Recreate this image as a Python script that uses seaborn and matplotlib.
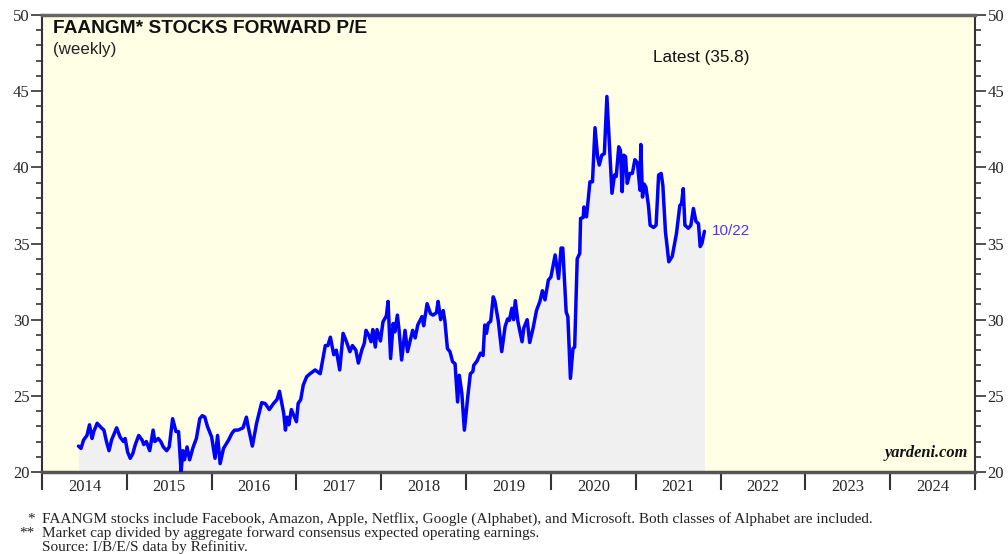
import matplotlib
matplotlib.use("Agg")
import matplotlib.pyplot as plt
from matplotlib.ticker import MultipleLocator, FixedLocator, NullFormatter
import seaborn as sns
import pandas as pd

# weekly forward P/E (decimal year, value)
years = [
    2014.43, 2014.46, 2014.49, 2014.53, 2014.56, 2014.59, 2014.61, 2014.65, 2014.70, 2014.73,
    2014.76, 2014.79, 2014.82, 2014.88, 2014.92, 2014.96, 2014.98, 2015.01, 2015.04, 2015.07,
    2015.10, 2015.14, 2015.18, 2015.20, 2015.23, 2015.27, 2015.31, 2015.33, 2015.37, 2015.40,
    2015.43, 2015.47, 2015.50, 2015.54, 2015.58, 2015.61, 2015.64, 2015.66, 2015.68, 2015.71,
    2015.74, 2015.78, 2015.82, 2015.86, 2015.89, 2015.92, 2015.95, 2016.00, 2016.04, 2016.07,
    2016.10, 2016.14, 2016.20, 2016.24, 2016.27, 2016.31, 2016.37, 2016.41, 2016.43, 2016.48,
    2016.53, 2016.59, 2016.63, 2016.68, 2016.73, 2016.77, 2016.80, 2016.85, 2016.87, 2016.89,
    2016.91, 2016.94, 2017.00, 2017.02, 2017.05, 2017.08, 2017.12, 2017.16, 2017.22, 2017.28,
    2017.34, 2017.37, 2017.40, 2017.44, 2017.47, 2017.51, 2017.55, 2017.59, 2017.63, 2017.66,
    2017.70, 2017.73, 2017.77, 2017.80, 2017.82, 2017.85, 2017.88, 2017.90, 2017.93, 2017.95,
    2017.99, 2018.02, 2018.06, 2018.08, 2018.11, 2018.14, 2018.16, 2018.19, 2018.21, 2018.24,
    2018.28, 2018.31, 2018.34, 2018.37, 2018.40, 2018.43, 2018.48, 2018.50, 2018.54, 2018.58,
    2018.61, 2018.65, 2018.67, 2018.70, 2018.73, 2018.75, 2018.78, 2018.81, 2018.84, 2018.87,
    2018.90, 2018.92, 2018.95, 2018.98, 2019.02, 2019.05, 2019.08, 2019.09, 2019.13, 2019.17,
    2019.20, 2019.22, 2019.24, 2019.26, 2019.29, 2019.32, 2019.34, 2019.38, 2019.42, 2019.46,
    2019.49, 2019.51, 2019.54, 2019.56, 2019.58, 2019.61, 2019.64, 2019.66, 2019.68, 2019.72,
    2019.75, 2019.79, 2019.83, 2019.87, 2019.90, 2019.93, 2019.97, 2020.00, 2020.05, 2020.09,
    2020.12, 2020.14, 2020.18, 2020.20, 2020.23, 2020.26, 2020.28, 2020.31, 2020.34, 2020.35,
    2020.38, 2020.39, 2020.42, 2020.46, 2020.49, 2020.52, 2020.55, 2020.57, 2020.60, 2020.63,
    2020.66, 2020.69, 2020.72, 2020.75, 2020.77, 2020.80, 2020.82, 2020.84, 2020.86, 2020.88,
    2020.90, 2020.93, 2020.96, 2020.99, 2021.02, 2021.05, 2021.06, 2021.08, 2021.10, 2021.12,
    2021.15, 2021.17, 2021.21, 2021.24, 2021.27, 2021.30, 2021.32, 2021.35, 2021.39, 2021.43,
    2021.48, 2021.52, 2021.54, 2021.56, 2021.58, 2021.62, 2021.65, 2021.68, 2021.71, 2021.74,
    2021.76, 2021.78, 2021.81,
]
pe = [
    21.7, 21.55, 22.1, 22.4, 23.1, 22.2, 22.65, 23.2, 22.9, 22.75,
    22.0, 21.4, 22.1, 22.9, 22.3, 22.0, 22.2, 21.3, 20.9, 21.2,
    21.8, 22.4, 22.1, 21.8, 22.0, 21.4, 22.75, 22.0, 22.2, 22.0,
    21.65, 21.4, 21.65, 23.5, 22.65, 22.65, 20.0, 21.4, 20.8, 21.65,
    20.8, 21.6, 22.2, 23.5, 23.7, 23.6, 23.0, 22.3, 20.9, 22.4,
    20.55, 21.55, 22.1, 22.55, 22.75, 22.75, 22.9, 23.6, 23.0, 21.7,
    23.2, 24.55, 24.5, 24.1, 24.5, 24.75, 25.3, 23.85, 22.75, 23.6,
    23.1, 24.1, 23.3, 24.5, 24.75, 25.7, 26.25, 26.45, 26.7, 26.45,
    28.3, 28.3, 28.85, 27.7, 28.0, 26.7, 29.1, 28.55, 27.9, 28.3,
    28.0, 27.15, 28.0, 28.45, 29.3, 29.0, 28.55, 29.35, 28.2, 29.35,
    28.6, 29.85, 30.25, 31.2, 27.45, 29.75, 29.2, 30.3, 29.3, 27.35,
    29.3, 27.9, 28.6, 29.3, 28.8, 29.65, 30.2, 29.6, 31.05, 30.4,
    30.3, 30.45, 31.2, 30.0, 30.6, 29.9, 28.1, 27.9, 27.25, 27.1,
    24.6, 26.35, 25.15, 22.75, 24.95, 26.45, 26.6, 27.0, 27.3, 27.8,
    27.65, 29.65, 29.1, 29.75, 29.9, 31.5, 31.2, 29.9, 27.9, 29.55,
    30.05, 29.95, 30.75, 30.0, 31.25, 29.9, 29.1, 28.55, 29.45, 30.0,
    28.5, 29.45, 30.6, 31.2, 31.9, 31.3, 32.6, 32.8, 34.25, 32.7,
    34.7, 34.7, 30.5, 30.2, 26.15, 28.1, 28.2, 34.0, 34.35, 36.65,
    36.7, 37.4, 36.75, 39.05, 39.05, 42.6, 40.7, 40.15, 40.8, 40.9,
    44.65, 41.5, 38.3, 39.5, 39.4, 41.35, 41.1, 38.4, 40.8, 40.7,
    38.95, 39.6, 39.6, 40.5, 40.3, 38.5, 41.5, 38.05, 38.9, 38.7,
    37.5, 36.2, 36.05, 36.2, 39.5, 39.6, 38.8, 35.8, 33.8, 34.15,
    35.65, 37.5, 37.6, 38.6, 36.2, 36.0, 36.2, 37.3, 36.45, 36.3,
    34.8, 35.0, 35.8,
]
year_labels = [str(y) for y in range(2014, 2025)]

df = pd.DataFrame({"year": years, "pe": pe})

sns.set_theme(style="ticks")
plt.rcParams["font.family"] = ["Liberation Serif", "DejaVu Serif"]
SANS = ["Liberation Sans", "DejaVu Sans"]

fig = plt.figure(figsize=(10.08, 5.54), dpi=100)
ax = fig.add_axes([42 / 1008, 1 - 472 / 554, 933 / 1008, 457 / 554])
ax.set_facecolor("#FFFFE6")

ax.fill_between(df["year"], 20, df["pe"], color="#F0F0F0", zorder=1, linewidth=0)
sns.lineplot(data=df, x="year", y="pe", ax=ax, color="#0000FF", linewidth=2.5,
             sort=False, zorder=3)

ax.set_xlim(2014, 2025)
ax.set_ylim(20, 50)
ax.set_xlabel("")
ax.set_ylabel("")

# x: tick marks at year boundaries, labels centered in each year
ax.xaxis.set_major_locator(FixedLocator(range(2014, 2026)))
ax.xaxis.set_major_formatter(NullFormatter())
ax.xaxis.set_minor_locator(FixedLocator([y + 0.5 for y in range(2014, 2025)]))
ax.set_xticklabels(year_labels, minor=True)
ax.tick_params(axis="x", which="major", direction="out", length=13, width=1.5, color="#333333")
ax.tick_params(axis="x", which="minor", length=0, pad=5, labelsize=12)

ax.yaxis.set_major_locator(MultipleLocator(5))
ax.yaxis.set_minor_locator(MultipleLocator(1))
ax.tick_params(axis="y", which="both", left=True, right=True, labelleft=True, labelright=True,
               direction="out", color="#333333", labelsize=12)
ax.tick_params(axis="y", which="major", length=8, width=1.2, pad=1)
ax.tick_params(axis="y", which="minor", length=4, width=1.2)

for s in ax.spines.values():
    s.set_color("#333333")
    s.set_linewidth(1.5)
ax.spines["top"].set_color("#666666")
ax.spines["top"].set_linewidth(2.5)
ax.spines["bottom"].set_color("#555555")
ax.spines["bottom"].set_linewidth(2.5)

ax.text(0.012, 0.988, "FAANGM* STOCKS FORWARD P/E", transform=ax.transAxes,
        fontsize=13.8, fontweight="bold", family=SANS, va="top", ha="left", color="#111111")
ax.text(0.012, 0.942, "(weekly)", transform=ax.transAxes, fontsize=12.2,
        family=SANS, va="top", ha="left", color="#222222")
ax.text(0.707, 0.908, "Latest (35.8)", transform=ax.transAxes, fontsize=12.3,
        family=SANS, va="center", ha="center", color="#111111")
ax.text(2021.9, 35.8, "10/22", fontsize=11, family=SANS,
        va="center", ha="left", color="#5533EE")
ax.text(0.993, 0.025, "yardeni.com", transform=ax.transAxes, fontsize=11.8,
        fontweight="bold", style="italic", va="bottom", ha="right", color="#111111")

notes = [
    ("*", "FAANGM stocks include Facebook, Amazon, Apple, Netflix, Google (Alphabet), and Microsoft. Both classes of Alphabet are included."),
    ("**", "Market cap divided by aggregate forward consensus expected operating earnings."),
    ("", "Source: I/B/E/S data by Refinitiv."),
]
for i, (mark, line) in enumerate(notes):
    yy = 1 - (519 + i * 14) / 554
    fig.text(35 / 1008, yy, mark, fontsize=11, ha="right", va="center", color="#222222")
    fig.text(42 / 1008, yy, line, fontsize=11, ha="left", va="center", color="#222222")

fig.savefig("out.png", dpi=100, facecolor="white")
